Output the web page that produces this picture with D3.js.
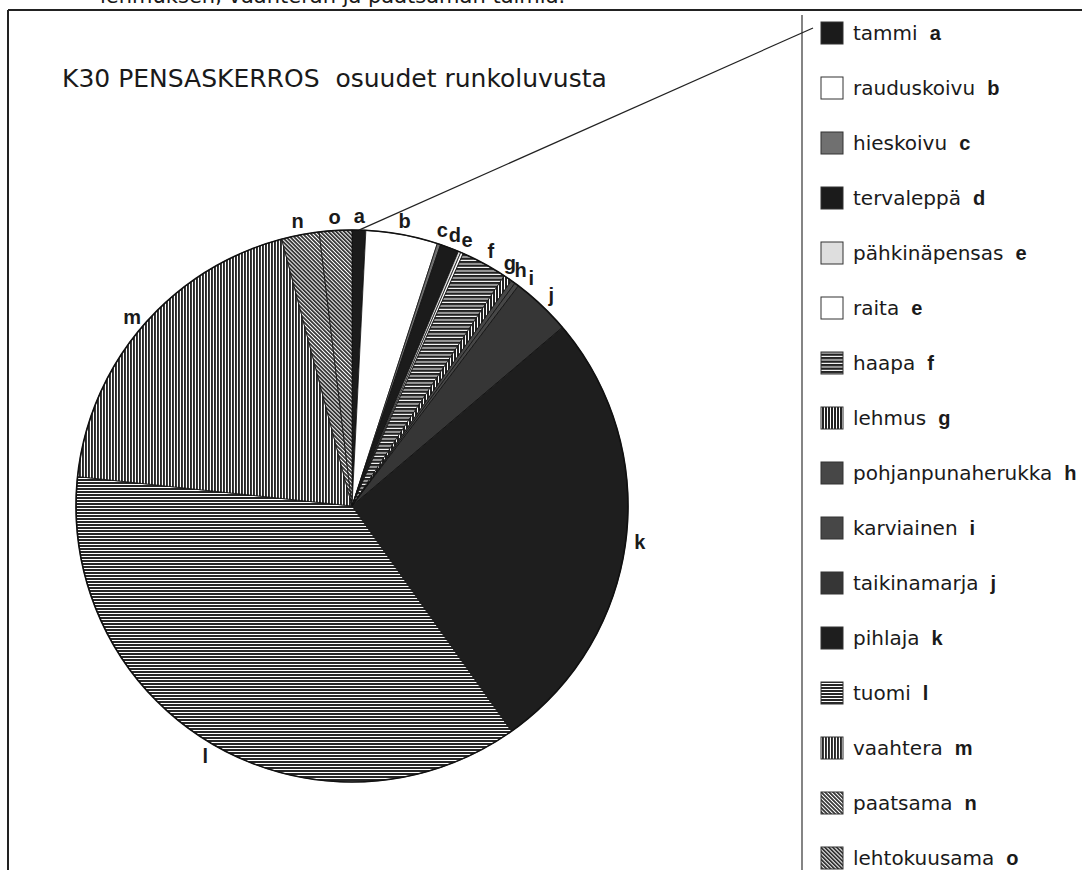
<!DOCTYPE html>
<html>
<head>
<meta charset="utf-8">
<script src="https://cdn.jsdelivr.net/npm/d3@7"></script>
<style>
  body { margin: 0; background: #fff; }
  svg { display: block; }
  .gothic { font-family: "DejaVu Sans", sans-serif; fill: #1a1a1a; }
  .bold { font-family: "Liberation Sans", Arial, sans-serif; font-weight: bold; fill: #1a1a1a; }
</style>
</head>
<body>
<svg id="chart" width="1082" height="870"></svg>
<script>
// species shares of stem count (%), clockwise from 12 o'clock
const letters = ["a", "b", "c", "d", "e", "e", "f", "g", "h", "i", "j", "k", "l", "m", "n", "o"];
const names = ["tammi", "rauduskoivu", "hieskoivu", "tervaleppä", "pähkinäpensas", "raita", "haapa", "lehmus",
               "pohjanpunaherukka", "karviainen", "taikinamarja", "pihlaja", "tuomi", "vaahtera", "paatsama", "lehtokuusama"];
const shares = [0.8, 4.2, 0.2, 1.1, 0.15, 0.15, 2.7, 0.5, 0.25, 0.25, 3.5, 26.4, 36.5, 19.2, 2.2, 1.9];

const title = "K30 PENSASKERROS  osuudet runkoluvusta";
const cutText = "lehmuksen, vaahteran ja paatsaman taimia.";

// fill for each slice, same order as above
const fills = ["#1b1b1b", "#fff", "#707070", "#1b1b1b", "#dedede", "#fff", "url(#hDense)", "url(#vDense)",
               "#474747", "#474747", "#363636", "#1e1e1e", "url(#hLines)", "url(#vLines)", "url(#diag)", "url(#diag)"];

const svg = d3.select("#chart");
const cx = 352, cy = 506, r = 276;

// hatch patterns
const defs = svg.append("defs");
function stripes(id, size, w, dir, color) {
    const p = defs.append("pattern").attr("id", id)
        .attr("patternUnits", "userSpaceOnUse")
        .attr("width", size).attr("height", size);
    p.append("rect").attr("width", size).attr("height", size).attr("fill", "#fff");
    if (dir == "h") {
        p.append("rect").attr("width", size).attr("height", w).attr("fill", color);
    } else if (dir == "v") {
        p.append("rect").attr("width", w).attr("height", size).attr("fill", color);
    } else {
        p.attr("patternTransform", "rotate(-45)");
        p.append("rect").attr("width", w).attr("height", size).attr("fill", color);
    }
}
stripes("hDense", 3.5, 2.4, "h", "#222");
stripes("vDense", 3, 2, "v", "#222");
stripes("hLines", 3, 2, "h", "#262626");
stripes("vLines", 3, 1.9, "v", "#262626");
stripes("diag", 2.8, 1.8, "d", "#333");

// frame
svg.append("line").attr("x1", 8).attr("x2", 1082).attr("y1", 10).attr("y2", 10)
    .attr("stroke", "#222").attr("stroke-width", 2);
svg.append("line").attr("x1", 8).attr("x2", 8).attr("y1", 10).attr("y2", 870)
    .attr("stroke", "#222").attr("stroke-width", 2);
svg.append("line").attr("x1", 802).attr("x2", 802).attr("y1", 15).attr("y2", 870)
    .attr("stroke", "#333").attr("stroke-width", 1.2);

// cut-off text line from the page above
svg.append("text").attr("class", "gothic")
    .attr("x", 100).attr("y", 3)
    .style("font-size", "21px")
    .text(cutText);

svg.append("text").attr("class", "gothic")
    .attr("x", 62).attr("y", 87)
    .style("font-size", "25px")
    .style("white-space", "pre")
    .text(title);

// pie
const pie = d3.pie().sort(null).value(d => d)
    .startAngle(0).endAngle(2 * Math.PI);
const arcs = pie(shares);
const arc = d3.arc().innerRadius(0).outerRadius(r);

const g = svg.append("g").attr("transform", `translate(${cx},${cy})`);
g.selectAll("path.slice")
    .data(arcs)
    .enter().append("path")
    .attr("class", "slice")
    .attr("d", arc)
    .attr("fill", (d, i) => fills[i])
    .attr("stroke", "#111")
    .attr("stroke-width", 0.8);
g.append("circle").attr("r", r).attr("fill", "none")
    .attr("stroke", "#111").attr("stroke-width", 1.6);

// one label per letter, at the middle of that letter's slices
const groups = d3.groups(arcs.map((d, i) => ({ a: d, letter: letters[i] })), d => d.letter);
let labels = groups.map(([letter, items]) => ({
    letter: letter,
    angle: (items[0].a.startAngle + items[items.length - 1].a.endAngle) / 2
}));
// push crowded labels apart a little
const minSep = 2.6 * Math.PI / 180;
for (let it = 0; it < 50; it++) {
    for (let k = 1; k < labels.length; k++) {
        const gap = labels[k].angle - labels[k - 1].angle;
        if (gap < minSep) {
            const push = (minSep - gap) / 2;
            labels[k - 1].angle -= push;
            labels[k].angle += push;
        }
    }
}
const labelR = 290;
g.selectAll("text.lbl")
    .data(labels)
    .enter().append("text")
    .attr("class", "bold lbl")
    .attr("x", d => labelR * Math.sin(d.angle))
    .attr("y", d => -labelR * Math.cos(d.angle))
    .attr("text-anchor", "middle")
    .attr("dominant-baseline", "central")
    .style("font-size", "20px")
    .text(d => d.letter);

// legend
const legX = 821, legY = 33, legStep = 55, sw = 22;
const leg = svg.append("g");
names.forEach((name, i) => {
    const y = legY + i * legStep;
    leg.append("rect")
        .attr("x", legX).attr("y", y - sw / 2)
        .attr("width", sw).attr("height", sw)
        .attr("fill", fills[i])
        .attr("stroke", "#333").attr("stroke-width", 1);
    const t = leg.append("text").attr("class", "gothic")
        .attr("x", legX + 32).attr("y", y)
        .attr("dominant-baseline", "central")
        .style("font-size", "20px");
    t.append("tspan").text(name);
    t.append("tspan").attr("class", "bold").attr("dx", 12)
        .style("font-size", "20px").text(letters[i]);
});

// leader line from slice a to its legend entry
const aMid = (arcs[0].startAngle + arcs[0].endAngle) / 2;
svg.append("line")
    .attr("x1", cx + r * Math.sin(aMid)).attr("y1", cy - r * Math.cos(aMid))
    .attr("x2", legX - 8).attr("y2", legY - 5)
    .attr("stroke", "#222").attr("stroke-width", 1.2);
</script>
</body>
</html>
